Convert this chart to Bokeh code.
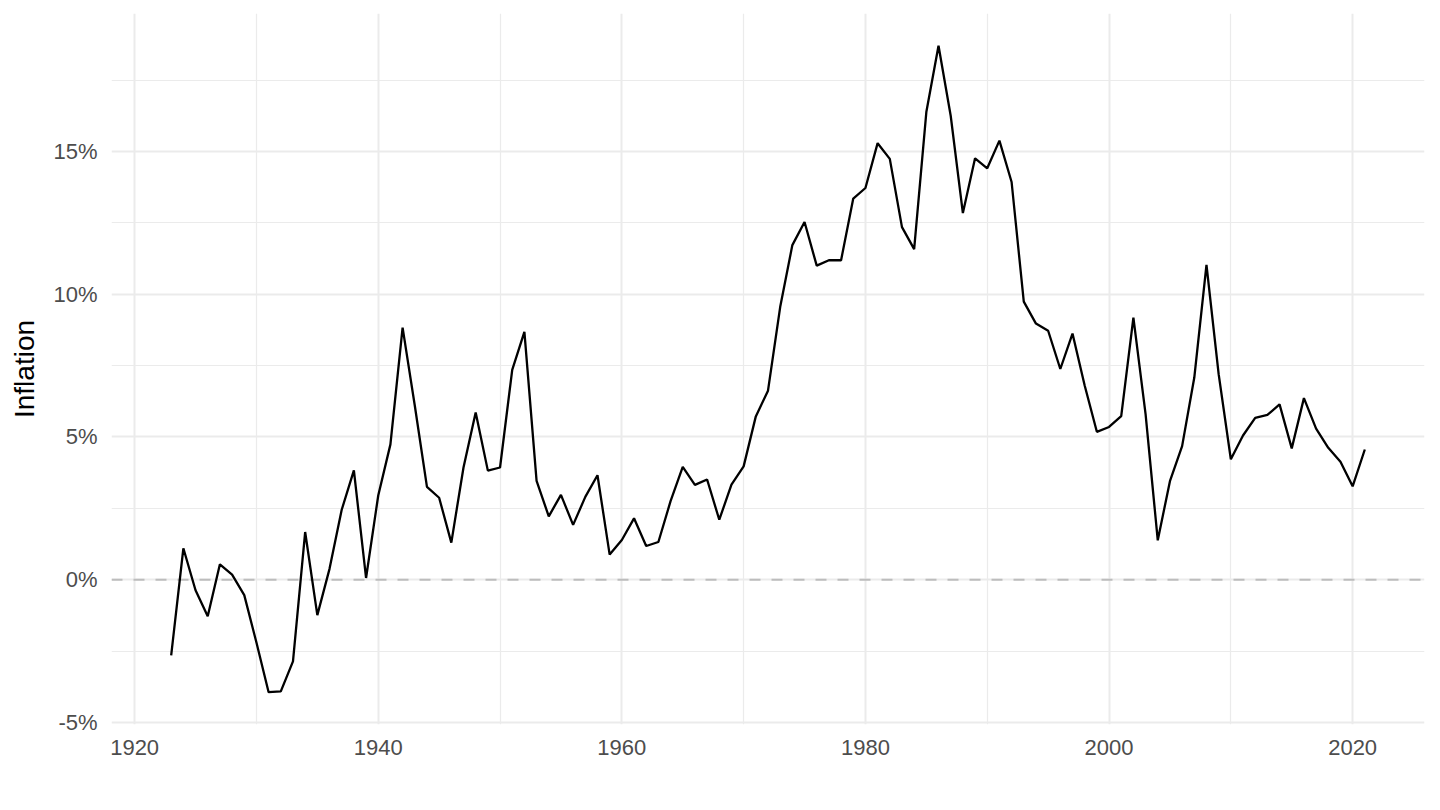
from bokeh.plotting import figure
from bokeh.models import Range1d, FixedTicker, PrintfTickFormatter, Span, ColumnDataSource
from bokeh.embed import file_html
from bokeh.resources import INLINE

years = list(range(1923, 2022))
inflation = [
    -2.65, 1.10, -0.37, -1.28, 0.54, 0.18, -0.54, -2.20, -3.94, -3.91,
    -2.86, 1.67, -1.24, 0.38, 2.45, 3.83, 0.06, 2.95, 4.74, 8.83,
    6.10, 3.25, 2.87, 1.30, 3.93, 5.86, 3.82, 3.93, 7.35, 8.68,
    3.46, 2.22, 2.97, 1.92, 2.90, 3.66, 0.88, 1.39, 2.15, 1.18,
    1.32, 2.75, 3.95, 3.32, 3.51, 2.10, 3.33, 3.97, 5.72, 6.62,
    9.55, 11.72, 12.53, 11.00, 11.19, 11.19, 13.35, 13.72, 15.29, 14.74,
    12.35, 11.58, 16.38, 18.70, 16.25, 12.84, 14.76, 14.41, 15.38, 13.93,
    9.74, 8.97, 8.72, 7.38, 8.62, 6.80, 5.18, 5.35, 5.73, 9.18,
    5.80, 1.38, 3.45, 4.68, 7.08, 11.03, 7.20, 4.22, 5.05, 5.67,
    5.77, 6.14, 4.60, 6.36, 5.29, 4.62, 4.13, 3.27, 4.56,
]
x_ticks = [1920, 1940, 1960, 1980, 2000, 2020]
x_minor = [1930, 1950, 1970, 1990, 2010]
y_ticks = [-5, 0, 5, 10, 15]
y_minor = [-2.5, 2.5, 7.5, 12.5, 17.5]
y_label = "Inflation"
ref_level = 0

src = ColumnDataSource(dict(year=years, value=inflation))

x0, x1 = min(years), max(years)
xpad = (x1 - x0) * 0.05
y0, y1 = min(inflation), max(inflation)
ypad = (y1 - y0) * 0.05

p = figure(frame_width=1313, frame_height=711,
           x_range=Range1d(x0 - xpad, x1 + xpad),
           y_range=Range1d(y0 - ypad, y1 + ypad),
           output_backend="svg", toolbar_location=None,
           min_border_left=111, min_border_right=5,
           min_border_top=13, min_border_bottom=55)

p.background_fill_color = "white"
p.border_fill_color = "white"
p.outline_line_color = None

grid_col = "#ebebeb"
p.xaxis.ticker = FixedTicker(ticks=x_ticks, minor_ticks=x_minor)
p.yaxis.ticker = FixedTicker(ticks=y_ticks, minor_ticks=y_minor)
p.yaxis.formatter = PrintfTickFormatter(format="%d%%")

for g in (p.xgrid, p.ygrid):
    g.grid_line_color = grid_col
    g.grid_line_width = 2
    g.minor_grid_line_color = grid_col
    g.minor_grid_line_width = 1.2

for ax in (p.xaxis, p.yaxis):
    ax.axis_line_color = None
    ax.major_tick_line_color = None
    ax.minor_tick_line_color = None
    ax.major_tick_out = 0
    ax.major_tick_in = 0
    ax.minor_tick_out = 0
    ax.minor_tick_in = 0
    ax.major_label_text_font = "Liberation Sans"
    ax.major_label_text_font_size = "22px"
    ax.major_label_text_color = "#4d4d4d"

p.xaxis.major_label_standoff = 15
p.yaxis.major_label_standoff = 14
p.yaxis.axis_label = y_label
p.yaxis.axis_label_text_font = "Liberation Sans"
p.yaxis.axis_label_text_font_size = "28px"
p.yaxis.axis_label_text_font_style = "normal"
p.yaxis.axis_label_text_color = "black"
p.yaxis.axis_label_standoff = 10

span = Span(location=ref_level, dimension="width", line_color="#bdbdbd",
            line_width=2, line_dash="11 11", level="underlay")
p.add_layout(span)

p.line("year", "value", source=src, line_color="black", line_width=2.3)

open("out.html", "w").write(file_html(p, INLINE))
